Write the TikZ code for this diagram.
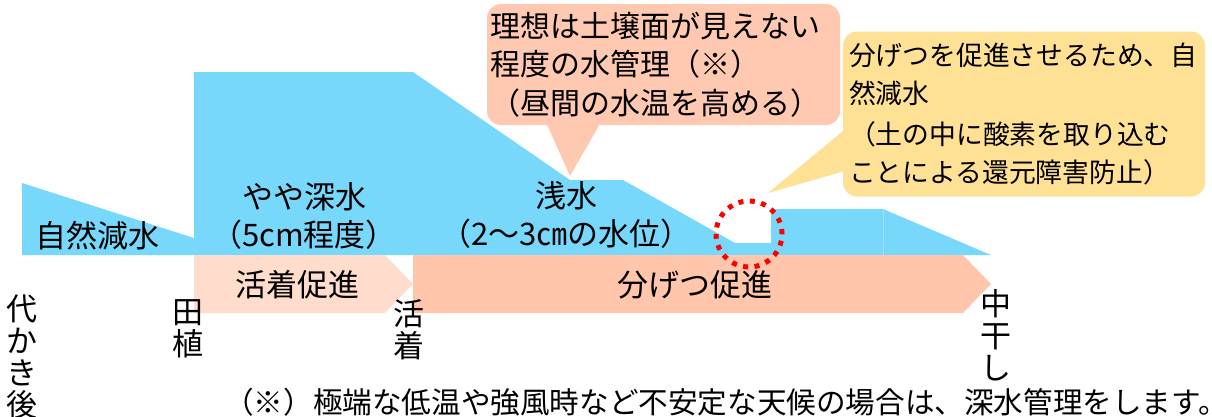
\documentclass[tikz,border=0pt]{standalone}
\usepackage{fontspec}
\setmainfont{Noto Sans CJK JP}
\usetikzlibrary{calc, positioning}

\definecolor{water}{HTML}{78D8FC}
\definecolor{pinklight}{HTML}{FFDCCB}
\definecolor{pinkdark}{HTML}{FFC6AC}
\definecolor{notepink}{HTML}{FFC8B0}
\definecolor{noteyellow}{HTML}{FFE196}

\begin{document}
\begin{tikzpicture}[x=1pt, y=-1pt,
    lbl/.style={inner sep=0pt, align=center, font=\fontsize{31}{38}\selectfont},
    vlbl/.style={inner sep=0pt, align=center, font=\fontsize{31}{32}\selectfont},
    note/.style={rounded corners=14pt, inner ysep=0pt, align=left}]
            % Invisible bounding box for the whole frame
            \path[use as bounding box] (0,0) rectangle (1212,416);

            \fill[water] (22,183) -- (194,238) -- (194,72) -- (413,72) -- (570,180) -- (623,180)
                -- (735,243) -- (771,243) -- (771,209) -- (883,209) -- (991,255) -- (22,255) -- cycle;
            \draw[white!25!water, line width=0.4pt] (883,209) -- (883,255);
            \fill[pinklight] (194,255) -- (385,255) -- (413,284) -- (385,313) -- (194,313) -- cycle;
            \fill[pinkdark] (413,255) -- (963,255) -- (991,284) -- (963,313) -- (413,313) -- cycle;

            \node[lbl] (natural) at (97,236) {自然減水};
            \node[lbl] (deep) at (304,216) {やや深水\\（5cm程度）};
            \node[lbl] (shallow) at (566,215) {浅水\\（2～3㎝の水位）};
            \node[lbl] (rooting) at (297,285) {活着促進};
            \node[lbl] (tiller) at (695,285) {分げつ促進};

            \node[vlbl] (puddle) at (22,357) {代\\か\\き\\後};
            \node[vlbl] (plant) at (188,329) {田\\植};
            \node[vlbl] (rooted) at (409,330) {活\\着};
            \node[vlbl] (drain) at (996,335) {中\\干\\し};

            \node[lbl, anchor=west, font=\fontsize{29.6}{36}\selectfont] (caution) at (224,402)
                {（※）極端な低温や強風時など不安定な天候の場合は、深水管理をします。};

            \node[note, fill=notepink, minimum height=121pt, text width=347pt, inner xsep=3pt,
                font=\fontsize{30}{38.5}\selectfont] (ideal) at (663.5,64.5)
                {理想は土壌面が見えない\\程度の水管理（※）\\（昼間の水温を高める）};
            \coordinate (idealtip) at (570,176);
            \fill[notepink] ([xshift=60pt,yshift=1pt]ideal.south west) -- (idealtip)
                -- ([xshift=113pt,yshift=1pt]ideal.south west) -- cycle;

            \node[note, fill=noteyellow, minimum height=165pt, text width=350pt, inner xsep=6pt,
                font=\fontsize{26.8}{37.5}\selectfont] (advice) at (1024,114)
                {分げつを促進させるため、自\\然減水\\[4pt]（土の中に酸素を取り込む\\ことによる還元障害防止）};
            \coordinate (advicetip) at (768,193);
            \fill[noteyellow] ([xshift=1pt,yshift=-99pt]advice.north west) -- (advicetip)
                -- ([xshift=1pt,yshift=-140pt]advice.north west) -- cycle;

            \node[circle, draw=red, line width=5pt, dash pattern=on 5pt off 6.5pt,
                minimum size=66pt, inner sep=0pt] (mark) at (749,234) {};
        \end{tikzpicture}
\end{document}
